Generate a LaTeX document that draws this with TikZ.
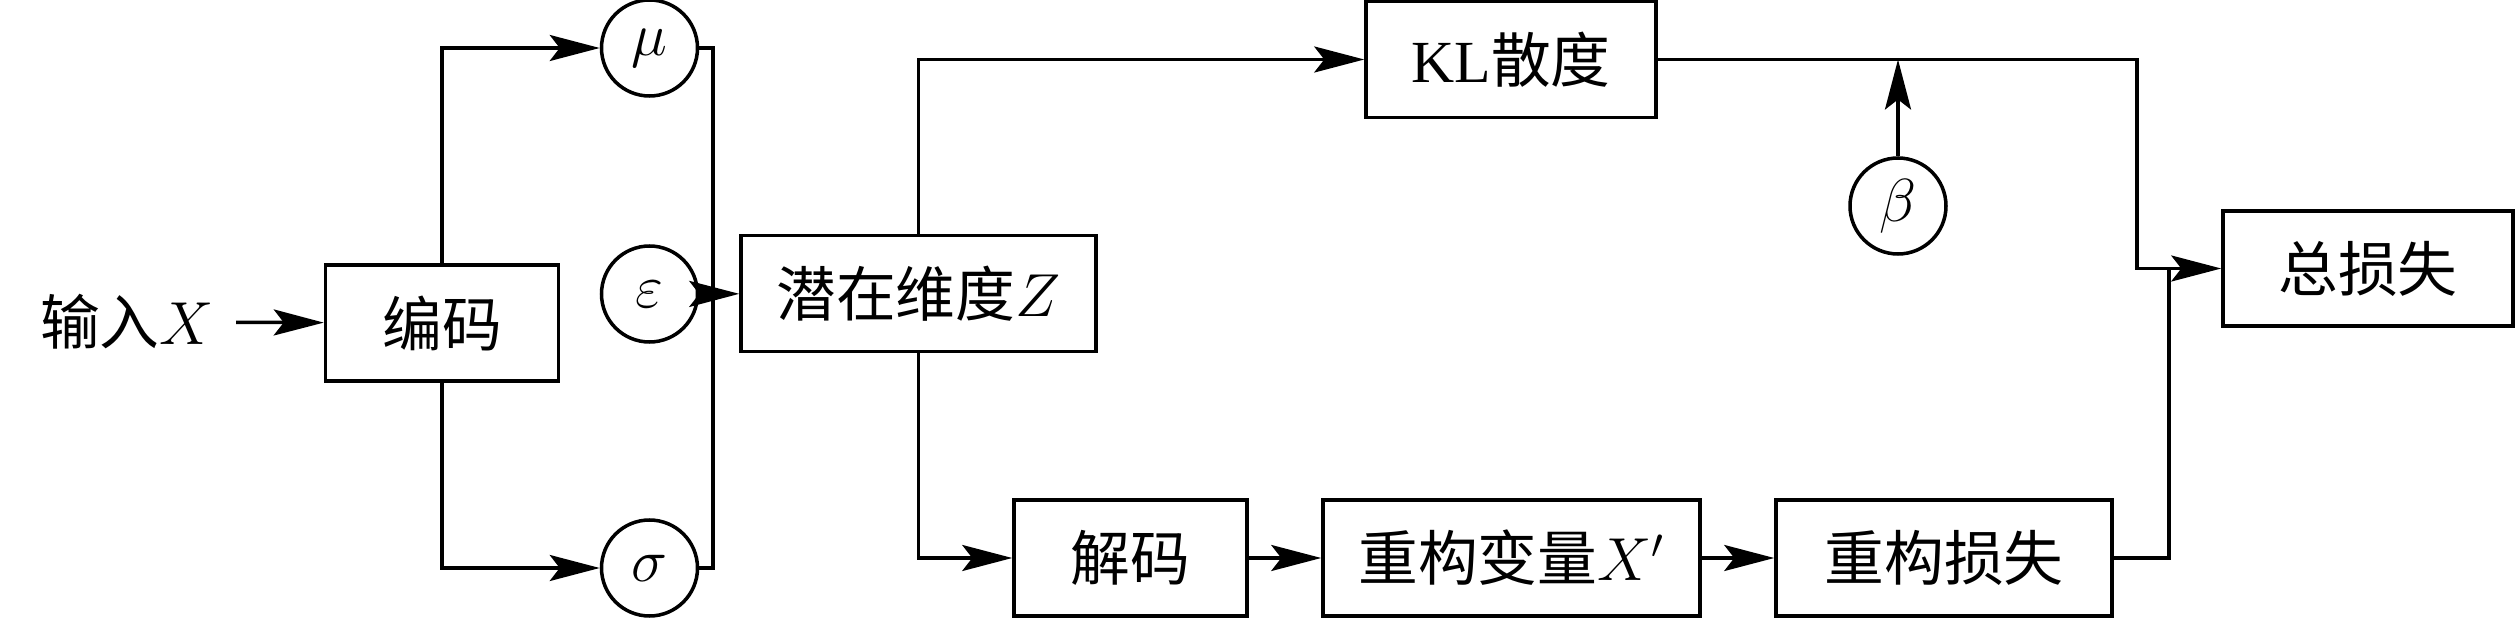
\documentclass[tikz,border=0pt]{standalone}
\usepackage{fontspec}
\setmainfont{Liberation Serif}
\newfontfamily\cjk{Noto Sans CJK SC}
\usetikzlibrary{positioning}
\usetikzlibrary{arrows.meta}

\begin{document}
\begin{tikzpicture}[
    block/.style={rectangle, draw=black, line width=1pt, minimum height=1.16cm, inner sep=2pt, font=\fontsize{17pt}{20pt}\selectfont},
    var/.style={circle, draw=black, line width=1pt, minimum size=0.96cm, inner sep=0pt, font=\fontsize{17pt}{20pt}\selectfont},
    wire/.style={line width=1pt},
    link/.style={wire, -{Stealth[length=5mm,width=2.6mm,inset=1mm]}},
]
\useasboundingbox (0,0) rectangle (25.16,-6.18);
% encoder side
\node[font=\fontsize{17pt}{20pt}\selectfont, inner sep=1pt] (in) at (1.27,-3.22) {{\cjk 输入}$X$};
\node[block, minimum width=2.33cm] (enc) at (4.42,-3.23) {\cjk 编码};
\node[var] (mu)  at (6.495,-0.48) {$\mu$};
\node[var] (eps) at (6.495,-2.94) {$\varepsilon$};
\node[var] (sig) at (6.495,-5.68) {$\sigma$};
\node[block, minimum width=3.55cm] (lat) at (9.185,-2.935) {{\cjk 潜在维度}$Z$};
% losses
\node[block, minimum width=2.90cm] (kl)  at (15.11,-0.595) {KL{\cjk 散度}};
\node[var] (beta) at (18.98,-2.06) {$\beta$};
\node[block, minimum width=2.90cm, minimum height=1.15cm] (tot) at (23.68,-2.685) {\cjk 总损失};
\node[block, minimum width=2.33cm] (dec) at (11.305,-5.58) {\cjk 解码};
\node[block, minimum width=3.77cm] (rec) at (15.115,-5.58) {{\cjk 重构变量}$X'$};
\node[block, minimum width=3.36cm] (rl)  at (19.44,-5.58) {\cjk 重构损失};
\coordinate (bus) at (7.13,-0.48);
\coordinate (klturn) at (21.37,-0.595);
\coordinate (rlturn) at (21.69,-5.58);

\draw[link, shorten <=0.18cm] (in) -- (enc);
\draw[link] (enc.north) |- (mu);
\draw[link] (enc.south) |- (sig);
\draw[wire] (mu) -- (bus) |- (sig);
\draw[link] (eps) -- (lat);
\draw[link] (lat.north) |- (kl);
\draw[link] (lat.south) |- (dec);
\draw[link] (dec) -- (rec);
\draw[link] (rec) -- (rl);
\draw[link] (kl) -- (klturn) |- (tot);
\draw[wire] (rl) -- (rlturn) -- (rlturn |- tot);
\draw[link] (beta) -- (beta |- kl);
\end{tikzpicture}
\end{document}
